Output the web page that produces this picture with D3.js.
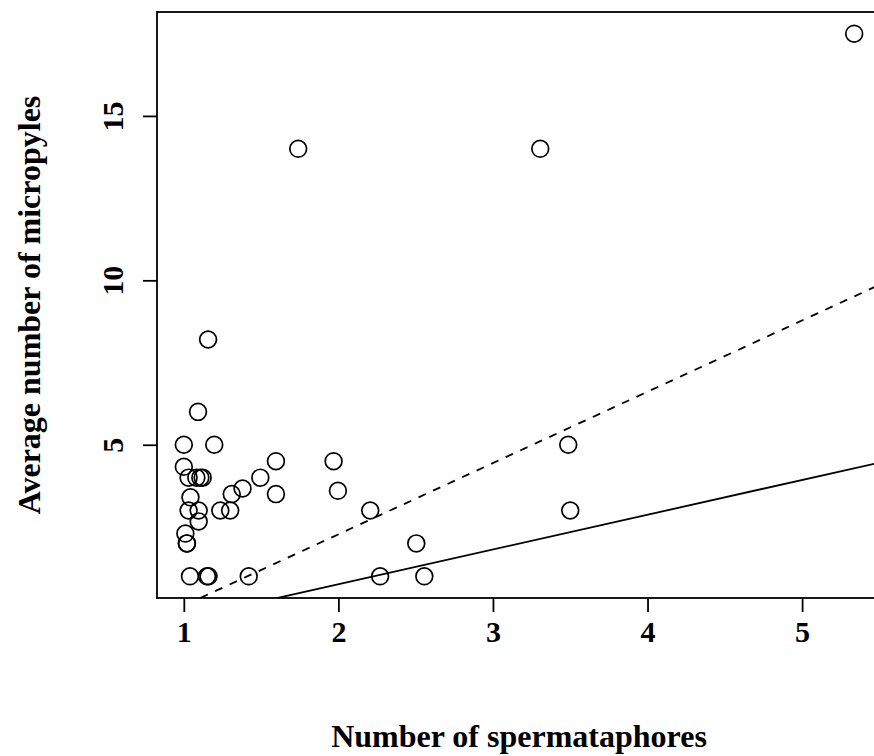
<!DOCTYPE html>
<html>
<head>
<meta charset="utf-8">
<script src="https://cdn.jsdelivr.net/npm/d3@7.9.0/dist/d3.min.js"></script>
<style>
  body { margin: 0; background: #fff; }
  text { font-family: "Liberation Serif", "Times New Roman", serif; font-weight: bold; fill: #000; }
</style>
</head>
<body>
<svg id="plot" width="874" height="756"></svg>
<script>
// number of spermataphores per female
const spermatophores = [
  1.157, 1.092, 1.0, 1.197, 1.0, 1.031, 1.081, 1.107, 1.122, 1.043,
  1.031, 1.096, 1.096, 1.236, 1.30, 1.31, 1.38, 1.495, 1.596, 1.596,
  1.969, 1.997, 1.01, 1.02, 1.02, 1.04, 1.15, 1.16, 1.42,
  1.74, 3.306, 5.337, 3.487, 3.50, 2.206, 2.504, 2.27, 2.556
];
// average number of micropyles
const micropyles = [
  8.2, 6.0, 5.0, 5.0, 4.33, 4.0, 4.0, 4.0, 4.0, 3.4,
  3.0, 3.0, 2.67, 3.0, 3.0, 3.5, 3.67, 4.0, 4.5, 3.5,
  4.5, 3.6, 2.3, 2.0, 2.0, 1.0, 1.0, 1.0, 1.0,
  14.0, 14.0, 17.5, 5.0, 3.0, 3.0, 2.0, 1.0, 1.0
];
const xTicks = [1, 2, 3, 4, 5];
const yTicks = [5, 10, 15];
// fitted lines: [intercept, slope]
const fitSolid = [-1.356, 1.057];
const fitDashed = [-2.06, 2.168];

const svg = d3.select('#plot');
const mLeft = 157, mRight = 881, mTop = 12, mBottom = 598;

const xExt = d3.extent(spermatophores);
const yExt = d3.extent(micropyles);
const xPad = (xExt[1] - xExt[0]) * 0.04;
const yPad = (yExt[1] - yExt[0]) * 0.04;

const x = d3.scaleLinear().domain([xExt[0] - xPad, xExt[1] + xPad]).range([mLeft, mRight]);
const y = d3.scaleLinear().domain([yExt[0] - yPad, yExt[1] + yPad]).range([mBottom, mTop]);

svg.append('clipPath').attr('id', 'clip')
  .append('rect').attr('x', mLeft).attr('y', mTop)
  .attr('width', mRight - mLeft).attr('height', mBottom - mTop);

const drawFit = (fit, dash) => {
  const [a, b] = fit;
  const xs = x.domain();
  svg.append('line')
    .attr('clip-path', 'url(#clip)')
    .attr('x1', x(xs[0])).attr('y1', y(a + b * xs[0]))
    .attr('x2', x(xs[1])).attr('y2', y(a + b * xs[1]))
    .attr('stroke', '#000').attr('stroke-width', 1.8)
    .attr('stroke-dasharray', dash);
};
drawFit(fitSolid, null);
drawFit(fitDashed, '8,8');

svg.append('g')
  .selectAll('circle')
  .data(spermatophores.map((d, i) => [d, micropyles[i]]))
  .join('circle')
  .attr('cx', (d) => x(d[0]))
  .attr('cy', (d) => y(d[1]))
  .attr('r', 8.4)
  .attr('fill', 'none')
  .attr('stroke', '#000')
  .attr('stroke-width', 1.7);

// box
svg.append('rect')
  .attr('x', mLeft).attr('y', mTop)
  .attr('width', mRight - mLeft).attr('height', mBottom - mTop)
  .attr('fill', 'none').attr('stroke', '#000').attr('stroke-width', 1.8);

// x axis
const xAxis = d3.axisBottom(x).tickValues(xTicks).tickSize(14).tickPadding(10).tickFormat(d3.format('d'));
const gx = svg.append('g').attr('transform', `translate(0,${mBottom})`).call(xAxis);
gx.select('.domain').remove();
gx.selectAll('line').attr('stroke-width', 1.8);
gx.selectAll('text').style('font-size', '30px').attr('dy', null).attr('y', 44);

// y axis
const yAxis = d3.axisLeft(y).tickValues(yTicks).tickSize(14).tickFormat(d3.format('d'));
const gy = svg.append('g').attr('transform', `translate(${mLeft},0)`).call(yAxis);
gy.select('.domain').remove();
gy.selectAll('line').attr('stroke-width', 1.8);
gy.selectAll('text')
  .style('font-size', '30px')
  .attr('x', null).attr('dy', null)
  .attr('text-anchor', 'middle')
  .attr('transform', 'translate(-34,0) rotate(-90)');

svg.append('text')
  .attr('x', (mLeft + mRight) / 2).attr('y', 747)
  .attr('text-anchor', 'middle')
  .style('font-size', '32px')
  .text('Number of spermataphores');

svg.append('text')
  .attr('transform', `translate(40,${(mTop + mBottom) / 2}) rotate(-90)`)
  .attr('text-anchor', 'middle')
  .style('font-size', '32px')
  .text('Average number of micropyles');
</script>
</body>
</html>
